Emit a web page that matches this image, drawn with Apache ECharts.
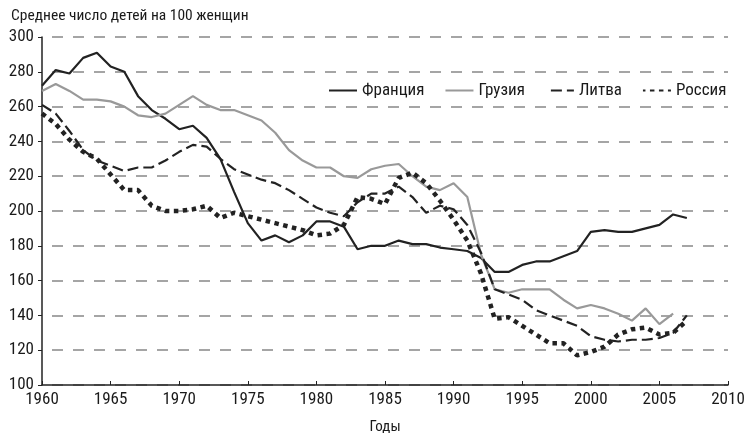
<!DOCTYPE html>
<html>
<head>
<meta charset="utf-8">
<script src="https://cdn.jsdelivr.net/npm/echarts@6/dist/echarts.min.js"></script>
<style>
  html, body { margin: 0; padding: 0; background: #fff; }
  #chart { width: 746px; height: 433px; }
</style>
</head>
<body>
<div id="chart"></div>
<script>
// данные: среднее число детей на 100 женщин, по годам начиная с 1960
const startYear = 1960
const france = [272, 281, 279, 288, 291, 283, 280, 266, 258, 253, 247, 249, 242, 230, 211, 193, 183, 186, 182, 186,
  194, 194, 191, 178, 180, 180, 183, 181, 181, 179, 178, 177, 173, 165, 165, 169, 171, 171, 174, 177,
  188, 189, 188, 188, 190, 192, 198, 196]
const georgia = [269, 273, 269, 264, 264, 263, 260, 255, 254, 256, 261, 266, 261, 258, 258, 255, 252, 245, 235, 229,
  225, 225, 220, 219, 224, 226, 227, 220, 214, 212, 216, 208, 175, 155, 153, 155, 155, 155, 149, 144,
  146, 144, 141, 137, 144, 135, 141]
const lithuania = [261, 256, 246, 235, 229, 226, 223, 225, 225, 229, 234, 238, 237, 230, 224, 221, 218, 216, 212, 207,
  202, 199, 197, 205, 210, 210, 214, 208, 199, 203, 201, 192, 176, 155, 152, 149, 143, 140, 137, 134,
  128, 126, 125, 126, 126, 127, 130, 140]
const russia = [256, 250, 241, 234, 230, 221, 212, 212, 203, 200, 200, 201, 203, 196, 199, 197, 195, 193, 191, 189,
  186, 187, 192, 208, 207, 204, 219, 222, 216, 206, 195, 183, 164, 138, 139, 134, 129, 124, 124, 117,
  119, 122, 129, 132, 133, 129, 130, 137]
const seriesNames = ['Франция', 'Грузия', 'Литва', 'Россия']

const font = "'Roboto Condensed', 'Liberation Sans Narrow', sans-serif"
const textColor = '#1a1a1a'

// пары [год, значение]
function toPairs(arr) {
  let out = []
  for (let i = 0; i < arr.length; i++) {
    out.push([startYear + i, arr[i]])
  }
  return out
}

let option = {
  animation: false,
  backgroundColor: '#fff',
  textStyle: { fontFamily: font },
  title: {
    text: 'Среднее число детей на 100 женщин',
    left: 6,
    top: 3,
    textStyle: { fontFamily: font, fontSize: 15.5, fontWeight: 'normal', color: textColor }
  },
  legend: {
    data: seriesNames,
    left: 323,
    top: 77,
    itemWidth: 28,
    itemHeight: 12,
    itemGap: 20,
    itemStyle: { opacity: 0 },
    textStyle: { fontFamily: font, fontSize: 17, color: textColor }
  },
  grid: { left: 42, right: 18, top: 37, bottom: 48, outerBoundsMode: 'none' },
  xAxis: {
    type: 'value',
    min: 1960,
    max: 2010,
    interval: 5,
    name: 'Годы',
    nameLocation: 'middle',
    nameGap: 35,
    nameTextStyle: { fontFamily: font, fontSize: 15, color: textColor },
    axisLine: { lineStyle: { color: '#222', width: 1.5 } },
    axisTick: { show: true, length: 4, inside: true, lineStyle: { color: '#222' } },
    axisLabel: { fontFamily: font, fontSize: 17, color: textColor, margin: 6, formatter: function (v) { return String(v) } },
    splitLine: { show: false }
  },
  yAxis: {
    type: 'value',
    min: 100,
    max: 300,
    interval: 20,
    axisLine: { show: true, lineStyle: { color: '#222', width: 1.5 } },
    axisTick: { show: true, length: 4, lineStyle: { color: '#222' } },
    axisLabel: { fontFamily: font, fontSize: 17, color: textColor, margin: 8 },
    splitLine: { show: true, lineStyle: { color: '#888', width: 1.5, type: [11, 10], dashOffset: 11 } }
  },
  series: [
    {
      name: 'Франция',
      type: 'line',
      data: toPairs(france),
      symbol: 'none',
      lineStyle: { color: '#222', width: 2.2 },
      itemStyle: { color: '#222' }
    },
    {
      name: 'Грузия',
      type: 'line',
      data: toPairs(georgia),
      symbol: 'none',
      lineStyle: { color: '#999', width: 2.2 },
      itemStyle: { color: '#999' }
    },
    {
      name: 'Литва',
      type: 'line',
      data: toPairs(lithuania),
      symbol: 'none',
      lineStyle: { color: '#222', width: 2.2, type: [11, 5] },
      itemStyle: { color: '#222' }
    },
    {
      name: 'Россия',
      type: 'line',
      data: toPairs(russia),
      symbol: 'none',
      lineStyle: { color: '#222', width: 4.5, type: [4.5, 4.5] },
      itemStyle: { color: '#222' }
    }
  ]
}

let myChart = echarts.init(document.getElementById('chart'))
myChart.setOption(option)
</script>
</body>
</html>
